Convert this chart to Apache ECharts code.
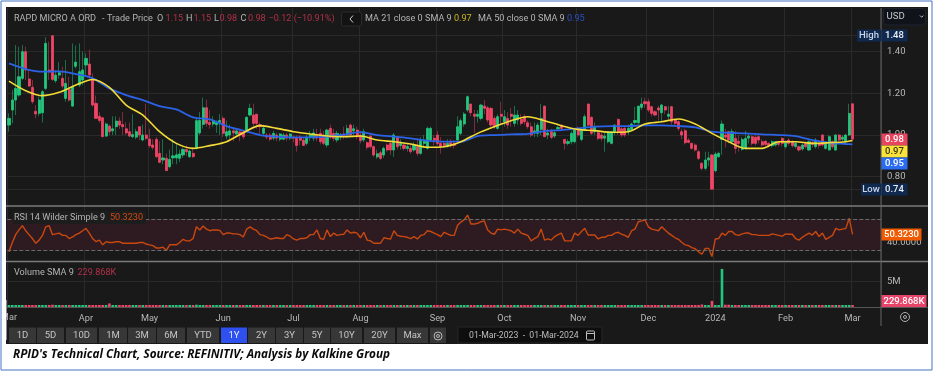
<!DOCTYPE html>
<html>
<head>
<meta charset="utf-8">
<title>RPID Technical Chart</title>
<style>
html,body{margin:0;padding:0;background:#fff;}
#chart{width:933px;height:371px;}
</style>
<script src="https://cdn.jsdelivr.net/npm/echarts@6/dist/echarts.min.js"></script>
</head>
<body>
<div id="chart"></div>
<script>
var monthNames = ['Mar','Apr','May','Jun','Jul','Aug','Sep','Oct','Nov','Dec','2024','Feb','Mar'];
var monthBars = [23,19,22,21,20,23,20,22,21,20,21,20,1];

// open, close, low, high
var candles = [
[1.048,1.08,1.016,1.104],[1.12,1.168,1.056,1.216],[1.168,1.224,1.096,1.432],[1.192,1.28,1.184,1.424],[1.272,1.40,1.264,1.432],
[1.40,1.312,1.264,1.424],[1.269,1.235,1.232,1.312],[1.229,1.16,1.15,1.264],[1.114,1.101,1.08,1.144],[1.104,1.168,1.09,1.184],
[1.107,1.208,1.06,1.216],[1.224,1.44,1.216,1.47],[1.312,1.304,1.264,1.448],[1.477,1.267,1.26,1.477],[1.261,1.288,1.25,1.312],
[1.288,1.299,1.27,1.35],[1.272,1.235,1.224,1.328],[1.176,1.248,1.16,1.36],[1.219,1.168,1.16,1.28],[1.139,1.232,1.135,1.44],
[1.33,1.35,1.32,1.43],[1.24,1.304,1.23,1.44],[1.264,1.312,1.24,1.40],
[1.336,1.368,1.288,1.392],[1.341,1.288,1.272,1.41],[1.264,1.144,1.136,1.296],[1.152,1.08,1.08,1.19],[1.09,1.07,1.06,1.11],
[1.083,.992,.99,1.084],[.995,1.053,.99,1.06],[1.043,1.016,1.0,1.05],[1.02,1.03,1.0,1.09],[1.04,1.067,1.0,1.09],
[1.067,1.048,1.03,1.085],[1.05,1.04,1.0,1.11],[1.03,1.01,1.0,1.06],[1.016,.995,.99,1.06],[.992,1.002,.985,1.10],
[.99,1.016,.98,1.03],[1.04,1.0,.975,1.04],[.976,1.0,.97,1.05],[1.0,.984,.975,1.15],
[.981,.949,.94,1.03],[.952,.941,.93,.98],[.979,.896,.89,.99],[.912,.869,.865,.97],[.88,.89,.86,.98],
[.888,.829,.828,.91],[.848,.883,.84,.93],[.89,.90,.86,.98],[.89,.905,.86,.96],[.888,.909,.87,.93],
[.904,.931,.89,.94],[.93,.92,.90,.95],[.896,.923,.89,.93],[.912,.896,.89,.94],[.936,1.069,.93,1.08],
[1.01,1.07,1.0,1.11],[1.051,1.131,1.03,1.18],[1.131,1.056,1.04,1.17],[1.06,1.05,1.03,1.12],[1.053,1.069,1.04,1.09],
[1.05,1.06,1.01,1.07],[1.06,1.07,1.0,1.10],
[1.08,1.008,.99,1.09],[.995,1.016,.98,1.07],[1.0,1.02,.98,1.05],[1.02,1.01,.97,1.03],[1.005,1.02,.99,1.03],
[1.015,1.0,.97,1.03],[1.015,.992,.98,1.02],[1.024,1.085,1.02,1.09],[1.096,1.128,1.09,1.15],[1.096,1.056,1.04,1.15],
[1.10,1.056,1.03,1.10],[1.05,1.04,1.0,1.06],[1.008,1.033,1.0,1.05],[1.0,.99,.98,1.01],[1.0,.98,.97,1.01],
[.985,1.008,.975,1.02],[1.0,.985,.97,1.01],[.98,1.005,.97,1.01],[.98,1.0,.975,1.01],[1.0,.985,.97,1.01],[.985,1.005,.975,1.01],
[.99,.985,.965,1.0],[.985,.95,.92,1.0],[.99,.975,.95,1.0],[.975,.95,.95,.99],[.96,.99,.95,1.0],
[.99,1.0,.97,1.02],[.985,1.01,.97,1.03],[1.0,.985,.97,1.03],[1.008,.968,.955,1.03],[1.0,.96,.95,1.02],
[.952,1.024,.94,1.03],[1.032,.989,.98,1.05],[1.008,.984,.97,1.03],[.976,1.008,.965,1.02],[.99,1.0,.975,1.01],
[1.005,.995,.98,1.04],[1.0,1.032,.985,1.05],[1.048,1.0,.99,1.055],[1.02,1.03,1.0,1.05],[1.024,.992,.98,1.04],
[1.0,.973,.96,1.02],[.976,1.016,.965,1.03],[.963,.941,.93,.97],[.995,.944,.935,1.0],[.944,.904,.895,.95],
[.895,.91,.885,.93],[.915,.888,.88,.925],[.904,.936,.89,.945],[.952,.928,.92,.96],[.96,.928,.905,.97],
[.928,1.0,.895,1.01],[.989,.944,.93,.995],[.95,.96,.93,.98],[.952,.936,.925,.96],[.935,.945,.92,.96],
[.936,.92,.91,.955],[.928,.952,.92,.965],[.944,.912,.90,.985],[.912,.976,.905,.99],[.96,.97,.94,1.0],
[.936,1.032,.93,1.04],[.976,1.032,.965,1.04],[.985,.975,.95,1.0],
[1.0,.96,.95,1.02],[.96,.944,.91,.99],[.96,.95,.94,.97],[.95,.96,.94,.98],[.965,.955,.94,.98],
[.96,.95,.935,.975],[.976,1.04,.965,1.09],[1.008,1.069,1.0,1.08],[1.053,1.101,1.04,1.11],[1.12,1.184,1.11,1.19],
[1.149,1.107,1.09,1.15],[1.1,1.09,1.01,1.12],[1.09,1.1,1.06,1.12],[1.08,1.144,1.07,1.15],[1.139,1.128,1.1,1.168],
[1.131,1.072,1.06,1.14],[1.128,1.048,1.04,1.135],[1.08,1.04,1.03,1.09],[1.032,1.088,1.025,1.10],[1.1,1.09,1.05,1.16],
[1.064,1.088,1.04,1.12],[1.08,1.048,1.03,1.11],[1.1,1.09,1.04,1.13],[1.056,1.096,1.04,1.14],[1.072,1.096,1.05,1.12],
[1.075,1.056,1.045,1.1],[1.088,1.064,1.05,1.1],[1.059,1.04,1.03,1.07],[1.04,1.0,.99,1.06],[1.01,1.02,.99,1.06],
[1.008,1.048,.99,1.06],[1.027,1.08,1.0,1.15],[1.139,.992,.99,1.14],[1.0,1.01,.98,1.03],[1.016,.989,.98,1.03],
[.995,1.011,.985,1.02],[1.03,1.036,1.02,1.045],[1.048,1.032,1.02,1.05],[.979,.96,.93,.98],[.96,.968,.95,.98],
[.968,1.008,.955,1.02],[.968,1.024,.96,1.03],[1.032,1.0,.99,1.04],[.979,1.021,.97,1.03],[1.027,1.088,1.02,1.10],
[1.149,1.048,1.04,1.15],[1.085,1.008,1.0,1.09],[1.016,1.037,1.0,1.06],[1.011,.984,.975,1.02],[1.0,.984,.97,1.01],
[.985,.995,.92,1.01],[.968,1.016,.96,1.02],[.96,1.016,.955,1.02],[1.016,1.048,1.0,1.05],[1.075,1.016,1.0,1.08],
[1.03,1.0,.99,1.04],[1.032,1.0,.99,1.04],[1.016,1.032,1.0,1.05],[1.027,1.053,1.02,1.06],[1.06,1.07,1.05,1.135],
[1.059,1.139,1.05,1.14],[1.133,1.149,1.12,1.18],[1.16,1.15,1.13,1.18],[1.16,1.12,1.11,1.175],[1.136,1.104,1.09,1.14],
[1.112,1.096,1.09,1.12],[1.13,1.12,1.07,1.14],[1.107,1.144,1.06,1.15],[1.136,1.12,1.1,1.14],[1.09,1.1,1.07,1.14],
[1.136,1.064,1.05,1.14],[1.072,1.056,1.045,1.08],[1.064,1.032,1.02,1.07],[1.016,1.0,.98,1.03],[1.021,.963,.955,1.03],
[.975,.965,.96,.985],[.96,.936,.93,.965],[.952,.928,.92,.96],[.92,.888,.88,.93],[.864,.84,.83,.87],
[.84,.88,.83,.92],[.88,.89,.85,.92],[.904,.74,.74,.91],[.829,.909,.82,.92],[.896,.912,.89,.92],
[.979,1.053,.905,1.07],[1.0,.99,.94,1.03],[1.016,.976,.96,1.02],[.968,1.016,.955,1.03],[.984,.936,.91,1.02],
[.97,.96,.92,1.0],[.931,.979,.925,.99],[.936,.984,.93,1.02],[.985,.995,.96,1.01],[.992,.96,.95,1.0],
[.989,.96,.95,1.0],[.992,.976,.96,1.0],[.968,.952,.945,.98],[.97,.955,.945,.975],[.96,.949,.94,.965],
[.949,.968,.94,.975],[.952,.968,.945,.97],[.965,.955,.945,.97],[.984,.96,.945,.99],[.944,.968,.935,.975],
[.976,.96,.95,.985],[.968,.949,.94,.975],[.945,.96,.935,.97],[.944,.928,.92,.95],[.933,.952,.925,.96],
[.96,.944,.935,.965],[.928,.968,.925,.975],[.965,.955,.94,.975],[.944,.976,.935,.985],[.96,.95,.935,.975],
[1.0,.952,.945,1.005],[.936,.96,.93,.97],[.928,.992,.925,1.0],[.968,.944,.935,.975],[.928,1.0,.925,1.005],
[1.0,.976,.965,1.005],[.98,.99,.97,1.0],[.968,1.0,.96,1.005],[1.0,1.104,.995,1.15],[1.15,.98,.98,1.15]
];

// moving averages read every 5th bar, last one is the final bar
var ma21 = [1.259,1.213,1.189,1.205,1.24,1.267,1.229,1.144,1.096,1.016,.96,.936,.949,.968,1.011,1.045,1.032,1.016,1.005,
	.995,.992,.995,.976,.968,.957,.941,.944,.968,1.008,1.04,1.069,1.088,1.069,1.045,1.027,1.021,1.013,1.016,
	1.053,1.064,1.077,1.053,1.008,.968,.936,.936,.968,.968,.96,.963,.968,.974];
var ma50 = [1.344,1.317,1.304,1.306,1.293,1.272,1.224,1.192,1.168,1.139,1.123,1.085,1.075,1.043,1.021,1.0,.992,.989,.989,
	.992,1.002,1.014,1.0,.992,.984,.973,.968,.968,.995,1.0,1.003,1.006,1.019,1.024,1.032,1.04,1.043,1.043,
	1.046,1.046,1.043,1.037,1.016,1.011,1.008,1.003,1.0,.995,.976,.963,.957,.955];

var rsi = [28,40,50,56,61.5,55,50,45,39,43,49,60,61.5,50,51,52,49,49,45,47,50,52,55,
	58,52,45,41,43,37,41,40,40,41,41,39,39,39,39,39,40,40,38,
	37,36,33,33,34,30,37,37,37,40,44,42,42,45,60,56,61,57,55,56,56,55.5,
	50,52,52,51,51,50,47,57,60,57,55,50,49,47,44.5,45,46,45,45,50,48,
	44.5,43,45,45,46,50,50,56,45,44,56,47.5,52,49,50,50.5,56,52,53,52,46,53,43,42,39,
	39,39,46,45,44.5,55,49,48,47.5,46.6,45,47.5,44.5,49,50,55,54,52,
	50,47.5,53,51,49,49,62,66,69,75,63.5,63.5,64.5,66.5,67.5,56,52,50.5,57,56,
	57,56,55,52,57,52,50.5,49,42,45,47.5,57,43,44.5,43,47.5,50,52,42,42,42,52,
	49,54,58,49.5,49.5,49.5,44.5,46.6,46.6,49,49,52,53,50.5,49,46.6,55,57,66.5,67.5,69,
	60,57,56,55,60,56,52,49,46,44,40,37,36,33.5,32,28,25,32.5,32.5,22,
	44.5,45,52,49,54,54,50,49,51,52,52,50,50,49,49,49,49,51,50,49,48,
	51,50.5,50.5,45,43,46.6,49.5,52,49.5,54,47.5,52,44,46.6,49,58,56,57,58,71,50.3];

// volume in millions
var volume = [.2,.3,.25,.2,.35,.3,.2,.2,.15,.2,.25,.4,.2,.45,.2,.15,.2,.25,.2,.3,.15,.25,.2,
	.2,.25,.35,.3,.2,.25,.2,.7,.25,.2,.15,.2,.15,.2,.15,.2,.15,.2,.2,
	.2,.15,.25,.2,.15,.25,.2,.15,.15,.2,.15,.15,.2,.2,.45,.25,.35,.2,.15,.15,.15,.2,
	.2,.2,.15,.15,.15,.15,.2,.2,.3,.2,.2,.15,.15,.2,.15,.15,.15,.2,.15,.15,.2,
	.2,.25,.15,.2,.15,.15,.2,.15,.2,.2,.25,.2,.2,.15,.15,.15,.2,.2,.15,.2,.2,.2,.15,.2,.2,
	.15,.15,.2,.15,.25,.2,.15,.15,.15,.15,.15,.15,.2,.2,.15,.25,.25,.15,
	.2,.15,.15,.2,.15,.15,.3,.35,.3,.4,.25,.2,.2,.25,.2,.2,.25,.2,.2,.15,
	.2,.2,.15,.2,.2,.15,.2,.4,.2,.2,.2,.2,.3,.2,.2,.15,.15,.2,.2,.15,.15,.15,
	.2,.15,.2,.2,.25,.2,.15,.15,.2,.2,.2,.2,.15,.15,.15,.15,.2,.2,.2,.2,.15,
	.2,.15,.15,.15,.15,.2,.15,.15,.2,.15,.15,.2,.15,.25,.2,.3,.5,.2,.15,1.2,
	.25,.2,7.5,.45,.45,.2,.2,.2,.35,.3,.2,.2,.2,.2,.15,.2,.15,.3,.2,.15,.2,
	.2,.25,.2,.15,.2,.15,.2,.15,.2,.15,.15,.2,.15,.2,.2,.2,.15,.2,.2,.35,.3];

var priceLevels = [0.74,0.80,1.00,1.20,1.40,1.48];
var priceLabels = [0.80,1.00,1.20,1.40];
var rsiBand = [30,70];
var rangeButtons = ['1D','5D','10D','1M','3M','6M','YTD','1Y','2Y','3Y','5Y','10Y','20Y','Max'];
var rangeButtonX = [9,37,66,99,128,157,187,221,248,276,304,331,364,397];
var rangeButtonW = [27,27,31,28,28,28,32,26,27,27,26,31,31,31];

var upColor = '#22c67e';
var downColor = '#ee4565';
var fontName = 'Roboto, "Liberation Sans", sans-serif';
var headSize = 9.1;

var categories = [];
for (var m = 0; m < monthNames.length; m++) {
	for (var d = 0; d < monthBars[m]; d++) {
		categories.push(monthNames[m] + '|' + d + '|' + m);
	}
}
// empty room between the last bar and the price axis
for (var e = 0; e < 8; e++) {
	categories.push('|x|' + e);
}

var maBars = [];
for (var b = 0; b <= 250; b += 5) {
	maBars.push(b);
}
maBars.push(252);

function pairUp(list) {
	return list.map(function (v, i) {
		return [maBars[i], v];
	});
}

function isMonthStart(index, value) {
	return value.split('|')[1] === '0';
}

var graphics = [];
function addRect(x, y, w, h, fill, z, stroke, r) {
	graphics.push({
		type: 'rect', z: z, silent: true,
		shape: {x: x, y: y, width: w, height: h, r: r || 0},
		style: {fill: fill, stroke: stroke || null, lineWidth: stroke ? 1 : 0}
	});
}
function addLine(x1, y1, x2, y2, color, width, z) {
	graphics.push({
		type: 'line', z: z, silent: true,
		shape: {x1: x1, y1: y1, x2: x2, y2: y2},
		style: {stroke: color, lineWidth: width}
	});
}
function addText(x, y, text, color, size, align, weight, z, family, style) {
	graphics.push({
		type: 'text', z: z || 60, silent: true, x: x, y: y,
		style: {
			text: text, fill: color, align: align || 'left', verticalAlign: 'middle',
			font: (style || 'normal') + ' ' + (weight || 'normal') + ' ' + size + 'px ' + (family || fontName)
		}
	});
}
function addBadge(x, y, w, h, fill, text, color) {
	addRect(x, y, w, h, fill, 70);
	addText(x + w / 2, y + h / 2 + 0.5, text, color, 9.5, 'center', '500', 71);
}
function addChevron(points, color) {
	graphics.push({type: 'polyline', z: 60, silent: true, shape: {points: points}, style: {fill: 'none', stroke: color, lineWidth: 1}});
}
function addRing(cx, cy, r, color) {
	graphics.push({type: 'circle', z: 60, silent: true, shape: {cx: cx, cy: cy, r: r}, style: {fill: 'none', stroke: color, lineWidth: 1}});
}

// dark panel behind the plots
addRect(6, 7, 922, 337, '#191919', -10);
addLine(6, 206, 928, 206, '#7b7b7b', 1.5, 50);
addLine(6, 261.5, 928, 261.5, '#7b7b7b', 1.5, 50);
addLine(7, 307.5, 928, 307.5, '#555555', 1, 1);
addLine(881, 8, 881, 326, '#666666', 1, 50);

// header lines
var grey = '#b4b4b4';
var red = '#b23149';
addText(14, 19, 'RAPD MICRO A ORD', grey, headSize);
addText(102, 19, '-', grey, headSize);
addText(107, 19, 'Trade Price', grey, headSize);
addText(157, 19, 'O', grey, headSize);
addText(165.5, 19, '1.15', red, headSize);
addText(186, 19, 'H', grey, headSize);
addText(193.5, 19, '1.15', red, headSize);
addText(214, 19, 'L', grey, headSize);
addText(219.5, 19, '0.98', red, headSize);
addText(240.5, 19, 'C', grey, headSize);
addText(248, 19, '0.98', red, headSize);
addText(268.5, 19, '\u22120.12 (\u221210.91%)', red, headSize);
addRect(341.5, 12, 20, 14, '#131313', 55, '#2c2c2c', 2);
addChevron([[353, 15.5], [350, 19], [353, 22.5]], '#d0d0d0');
addText(365, 19, 'MA 21 close 0 SMA 9', grey, headSize);
addText(454, 19, '0.97', '#c9b61e', headSize);
addText(478, 19, 'MA 50 close 0 SMA 9', grey, headSize);
addText(567, 19, '0.95', '#2a50c4', headSize);

addRect(13, 211, 133, 13, '#1d1d1d', 55);
addText(14, 217.5, 'RSI 14 Wilder Simple 9', grey, headSize);
addText(110, 217.5, '50.3230', '#d24a10', headSize);
addText(14, 273, 'Volume SMA 9', grey, headSize);
addText(77.5, 273, '229.868K', red, headSize);

// currency box
addRect(883.5, 8.5, 42, 16.5, '#10131a', 55, '#1d2430', 3);
addText(886.5, 17, 'USD', '#c4c8ce', 9.6);
addChevron([[920, 15.5], [921.7, 17.2], [923.4, 15.5]], '#c4c8ce');

// price badges
addBadge(857, 29.5, 24, 12, '#10294f', 'High', '#c9d5ea');
addBadge(881.5, 29.5, 26, 12, '#10294f', '1.48', '#e8edf5');
addBadge(881.5, 133.5, 26, 12, '#e8445f', '0.98', '#ffffff');
addBadge(881.5, 145.5, 26, 12, '#f8e23b', '0.97', '#3a3510');
addBadge(881.5, 157.5, 26, 12, '#2b6cf0', '0.95', '#ffffff');
addBadge(861, 183.5, 20, 12, '#10294f', 'Low', '#c9d5ea');
addBadge(881.5, 183.5, 26, 12, '#10294f', '0.74', '#e8edf5');
addBadge(881.5, 228.5, 40, 12, '#f05a00', '50.3230', '#ffffff');
addBadge(881.5, 295, 45, 12, '#e8446a', '229.868K', '#ffffff');

// range buttons
for (var i = 0; i < rangeButtons.length; i++) {
	var active = rangeButtons[i] === '1Y';
	addRect(rangeButtonX[i], 327.5, rangeButtonW[i], 15.5, active ? '#2d50ef' : '#373737', 55);
	addText(rangeButtonX[i] + rangeButtonW[i] / 2, 336, rangeButtons[i], active ? '#e8ecff' : '#c4c4c4', 9.5, 'center');
}
addRect(430, 327.5, 16, 15.5, '#373737', 55);
addRing(438, 336, 4, '#b8b8b8');
addRing(438, 336, 1.5, '#b8b8b8');
addRect(458, 327, 144, 16, '#0e0e0e', 55, '#272727');
addText(469, 336, '01-Mar-2023  -  01-Mar-2024', '#bdbdbd', 8.7);
addRect(586.5, 331, 8, 9, 'none', 60, '#bdbdbd', 1);
addLine(586.5, 333.5, 594.5, 333.5, '#bdbdbd', 1, 60);
addRing(905, 317, 4.5, '#b0b0b0');
addRing(905, 317, 1.5, '#b0b0b0');

// first month label runs off the panel, the white margin cuts it
addText(17, 318, monthNames[0], '#b8b8b8', 9.2, 'right');
addRect(0, 300, 6.5, 40, '#ffffff', 90);
addText(13, 354.5, "RPID's Technical Chart, Source: REFINITIV; Analysis by Kalkine Group", '#0a0a0a', 11.75, 'left', 'bold', 91, '"Open Sans", sans-serif', 'italic');
addRect(1, 1, 931, 369, 'none', 95, '#4472c4');

var gridLine = {show: true, lineStyle: {color: '#2a2a2a', width: 1}};
var monthSplit = {show: true, interval: isMonthStart, lineStyle: {color: '#2a2a2a', width: 1}};

function makeX(gridIndex, showLabel) {
	return {
		type: 'category', gridIndex: gridIndex, data: categories, boundaryGap: true,
		axisLine: {show: false}, axisTick: {show: false},
		splitLine: monthSplit,
		axisLabel: {
			show: showLabel, interval: isMonthStart, color: '#b8b8b8', fontSize: 9.2, fontFamily: fontName, margin: 7,
			hideOverlap: false,
			formatter: function (value) {
				var parts = value.split('|');
				return parts[2] === '0' ? '' : parts[0];
			}
		}
	};
}

var myChart = echarts.init(document.getElementById('chart'), null, {renderer: 'canvas'});
myChart.setOption({
	backgroundColor: '#ffffff',
	animation: false,
	graphic: {elements: graphics},
	grid: [
		{left: 7.3, right: 52, top: 8, height: 197},
		{left: 7.3, right: 52, top: 207, height: 53},
		{left: 7.3, right: 52, top: 263, height: 44}
	],
	xAxis: [makeX(0, false), makeX(1, false), makeX(2, true)],
	yAxis: [{
		gridIndex: 0, position: 'right', min: 0.664, max: 1.61, scale: true,
		axisLine: {show: false}, axisTick: {show: false, customValues: priceLevels},
		splitLine: gridLine,
		axisLabel: {
			customValues: priceLabels, color: '#b8b8b8', fontSize: 9.5, fontFamily: fontName, margin: 6,
			formatter: function (v) {
				return v.toFixed(2);
			}
		}
	}, {
		gridIndex: 1, position: 'right', min: 17.6, max: 85.3, scale: true,
		axisLine: {show: false}, axisTick: {show: false, customValues: [40]},
		splitLine: {show: false},
		axisLabel: {
			customValues: [40], color: '#b8b8b8', fontSize: 9.5, fontFamily: fontName, margin: 6,
			formatter: function (v) {
				return v.toFixed(4);
			}
		}
	}, {
		gridIndex: 2, position: 'right', min: 0, max: 8.66,
		axisLine: {show: false}, axisTick: {show: false, customValues: [5]},
		splitLine: gridLine,
		axisLabel: {
			customValues: [5], color: '#b8b8b8', fontSize: 9.5, fontFamily: fontName, margin: 6,
			formatter: function (v) {
				return v + 'M';
			}
		}
	}],
	series: [{
		name: 'wicks', type: 'candlestick', xAxisIndex: 0, yAxisIndex: 0, barWidth: 1,
		data: candles,
		itemStyle: {color: '#1a6f4b', color0: '#7e2a40', borderColor: '#1a6f4b', borderColor0: '#7e2a40', borderWidth: 1},
		z: 2
	}, {
		name: 'Trade Price', type: 'candlestick', xAxisIndex: 0, yAxisIndex: 0, barWidth: 2.6,
		data: candles.map(function (c) {
			return [c[0], c[1], Math.min(c[0], c[1]), Math.max(c[0], c[1])];
		}),
		itemStyle: {color: upColor, color0: downColor, borderColor: upColor, borderColor0: downColor, borderWidth: 0.8},
		z: 3
	}, {
		name: 'MA 50', type: 'line', xAxisIndex: 0, yAxisIndex: 0, data: pairUp(ma50),
		showSymbol: false, smooth: 0.3, lineStyle: {color: '#2b62e8', width: 1.8}, z: 4
	}, {
		name: 'MA 21', type: 'line', xAxisIndex: 0, yAxisIndex: 0, data: pairUp(ma21),
		showSymbol: false, smooth: 0.3, lineStyle: {color: '#f4dc38', width: 1.6}, z: 5
	}, {
		name: 'RSI', type: 'line', xAxisIndex: 1, yAxisIndex: 1, data: rsi,
		showSymbol: false, lineStyle: {color: '#c8480f', width: 1.4}, z: 4,
		markArea: {
			silent: true, itemStyle: {color: '#2e1b21'},
			data: [[{yAxis: rsiBand[0]}, {yAxis: rsiBand[1]}]]
		},
		markLine: {
			silent: true, symbol: 'none', label: {show: false},
			lineStyle: {color: '#6a6a6a', type: 'dashed', width: 1},
			data: [{yAxis: rsiBand[0]}, {yAxis: rsiBand[1]}]
		}
	}, {
		name: 'Volume', type: 'bar', xAxisIndex: 2, yAxisIndex: 2, barWidth: 2.6, barMinHeight: 2,
		data: volume.map(function (v, i) {
			return {value: v, itemStyle: {color: candles[i][1] >= candles[i][0] ? upColor : downColor}};
		}),
		z: 3
	}]
});
</script>
</body>
</html>
